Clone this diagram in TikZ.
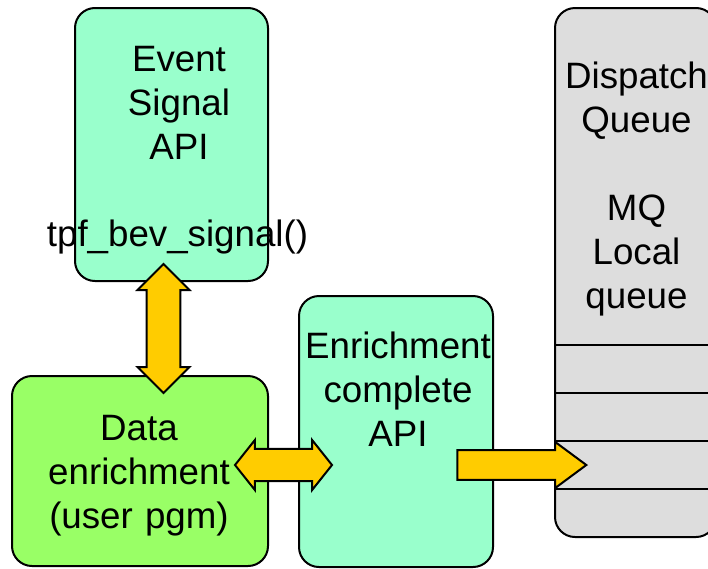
\documentclass[tikz,border=0pt]{standalone}
\usepackage{fontspec}
\setmainfont{Liberation Sans}
\usetikzlibrary{shapes.arrows}
\definecolor{apicol}{HTML}{99FFCC}
\definecolor{usercol}{HTML}{99FF66}
\definecolor{queuecol}{HTML}{DDDDDD}
\definecolor{arrowcol}{HTML}{FFCC00}
\tikzset{
  boxstyle/.style={draw=black, line width=2pt, rounded corners=20pt,
    rectangle, inner sep=0pt},
  lbl/.style={font=\fontsize{36.7}{44}\selectfont, align=center,
    text width=300pt, anchor=base, inner sep=0pt},
  blockarrow/.style={draw=black, line width=2pt, fill=arrowcol,
    inner xsep=0pt, inner ysep=12pt},
}
\begin{document}
\begin{tikzpicture}[x=1pt,y=-1pt]
\useasboundingbox (0,0) rectangle (708,568);
\clip (0,0) rectangle (708,568);

% boxes
\node[boxstyle, fill=apicol, minimum width=193pt, minimum height=273pt]
  (event) at (171.5,144.5) {};
\node[boxstyle, fill=usercol, minimum width=256pt, minimum height=190pt]
  (data) at (140,471) {};
\node[boxstyle, fill=apicol, minimum width=194pt, minimum height=271pt]
  (enrich) at (396,431.5) {};
\node[boxstyle, fill=queuecol, minimum width=161pt, minimum height=529pt]
  (queue) at (635.5,272.5) {};

% queue slots
\foreach \yy in {345,393,441,489}
  \draw[line width=2pt] (queue.west |- 0,\yy) -- (queue.east |- 0,\yy);

% labels
\node[lbl] (eventtxt) at (179,71) {Event\\Signal\\API};
\node[lbl] (calltxt) at (177.5,246) {tpf\_bev\_signal()};
\node[lbl] (datatxt) at (139,440) {Data\\enrichment\\(user pgm)};
\node[lbl] (enrichtxt) at (398,358) {Enrichment\\complete\\API};
\node[lbl] (queuetxt) at (636.5,88) {Dispatch\\Queue\\[44pt]MQ\\Local\\queue};

% block arrows
\node[blockarrow, double arrow, rotate=90, minimum height=129pt,
  minimum width=52pt, double arrow tip angle=90] (signalarrow) at (163.5,328.5) {};
\node[blockarrow, double arrow, minimum height=97pt,
  minimum width=50pt, double arrow tip angle=103] (enricharrow) at (283.5,465) {};
\node[blockarrow, single arrow, minimum height=129pt,
  minimum width=46pt, single arrow tip angle=73, anchor=tip]
  (dispatcharrow) at (588,465) {};
\end{tikzpicture}
\end{document}
